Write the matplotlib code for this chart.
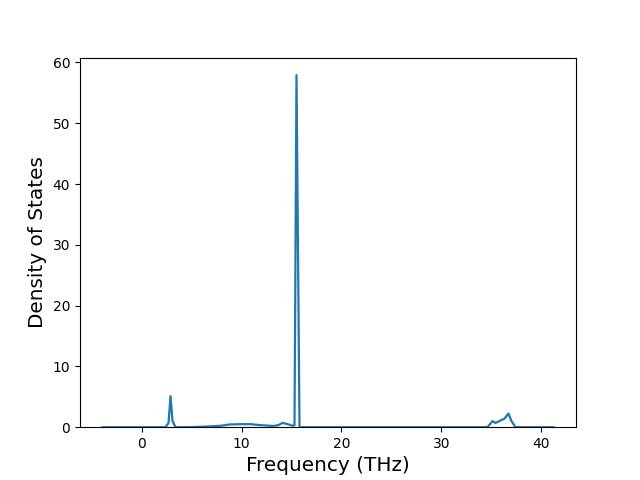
import matplotlib
matplotlib.use("Agg")
import matplotlib.pyplot as plt

# Phonon density of states
frequency = [-3.9, -2.0, 0.0, 1.5, 2.4, 2.7, 2.9, 3.1, 3.4, 4.0, 5.0, 6.5,
             8.0, 8.8, 10.0, 10.9, 11.8, 13.2, 13.7, 14.1, 14.5, 15.1, 15.3,
             15.5, 15.8, 15.9, 17.0, 25.0, 34.0, 34.6, 35.1, 35.4, 35.9,
             36.3, 36.7, 37.0, 37.4, 38.0, 40.0, 41.2]
dos = [0.0, 0.0, 0.0, 0.0, 0.0, 0.7, 5.1, 1.0, 0.0, 0.0, 0.02, 0.1,
       0.25, 0.45, 0.5, 0.5, 0.35, 0.2, 0.35, 0.7, 0.55, 0.25, 0.3,
       57.9, 0.0, 0.0, 0.0, 0.0, 0.0, 0.0, 1.0, 0.7, 1.1,
       1.4, 2.25, 1.0, 0.0, 0.0, 0.0, 0.0]

fig, ax = plt.subplots(figsize=(6.4, 4.8), dpi=100)
ax.plot(frequency, dos, color="C0", linewidth=1.6)
ax.set_ylim(bottom=0)
ax.set_xlabel("Frequency (THz)", fontsize="x-large")
ax.set_ylabel("Density of States", fontsize="x-large")

fig.savefig("out.png")
